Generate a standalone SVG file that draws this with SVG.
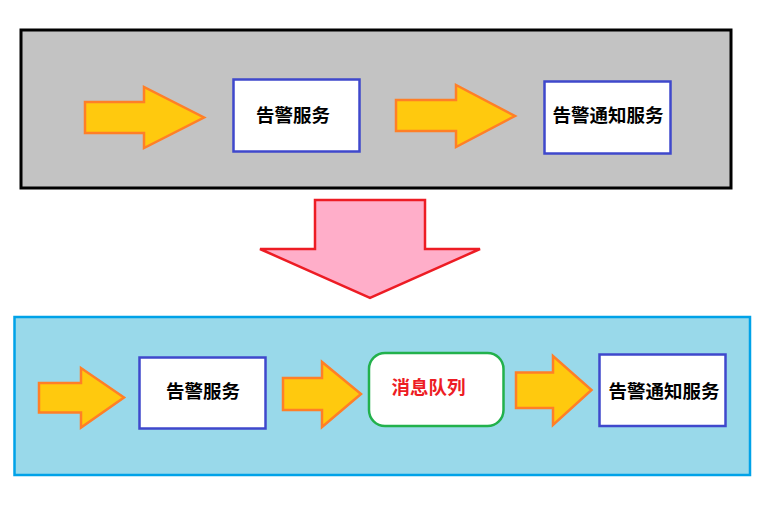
<svg xmlns="http://www.w3.org/2000/svg" width="783" height="507" viewBox="0 0 783 507">
<style>
.arrow{fill:#ffc90e;stroke:#ff7f27;stroke-width:2.5;stroke-linejoin:miter}
.svc{fill:#ffffff;stroke:#3f48cc;stroke-width:2.5}
.t{font-family:"Noto Sans CJK SC","Noto Sans",sans-serif;font-weight:bold;font-size:18.5px;text-anchor:middle;fill:#000000}
</style>
<rect width="783" height="507" fill="#ffffff"/>
<g id="before">
<rect x="21" y="30" width="710" height="158" fill="#c3c3c3" stroke="#000000" stroke-width="3"/>
</g>
<g id="after">
<rect x="14.5" y="317" width="735.5" height="158" fill="#99d9ea" stroke="#00a2e8" stroke-width="2.5"/>
</g>
<g id="connectors">
<polygon class="arrow" points="85,102 144,102 144,87 204,117.5 144,148 144,133 85,133"/>
<polygon class="arrow" points="396,100 456,100 456,85 515,116 456,147 456,131 396,131"/>
<polygon points="315,200 425,200 425,249 480,249 370,298 260,249 315,249" fill="#ffaec9" stroke="#ed1c24" stroke-width="2.5"/>
<polygon class="arrow" points="39,383 81,383 81,368 124,397.5 81,427.5 81,412.5 39,412.5"/>
<polygon class="arrow" points="283,378 322,378 322,362 361,394 322,427 322,410 283,410"/>
<polygon class="arrow" points="516,372.5 553,372.5 553,356 591.5,390 553,425 553,408 516,408"/>
</g>
<g id="alarm-service-1">
<rect class="svc" x="233.5" y="79.5" width="126" height="72"/>
<text class="t" x="293" y="122">告警服务</text>
</g>
<g id="notify-service-1">
<rect class="svc" x="544.5" y="81.5" width="126" height="72"/>
<text class="t" x="608" y="121.5">告警通知服务</text>
</g>
<g id="alarm-service-2">
<rect class="svc" x="139.5" y="357.5" width="126" height="71"/>
<text class="t" x="203" y="398">告警服务</text>
</g>
<g id="mq">
<rect x="369" y="353" width="134.5" height="73" rx="16" ry="16" fill="#ffffff" stroke="#22b14c" stroke-width="2.5"/>
<text class="t" x="428.5" y="394" style="fill:#ed1c24">消息队列</text>
</g>
<g id="notify-service-2">
<rect class="svc" x="599.5" y="354.5" width="126" height="71.5"/>
<text class="t" x="664" y="398">告警通知服务</text>
</g>
</svg>
